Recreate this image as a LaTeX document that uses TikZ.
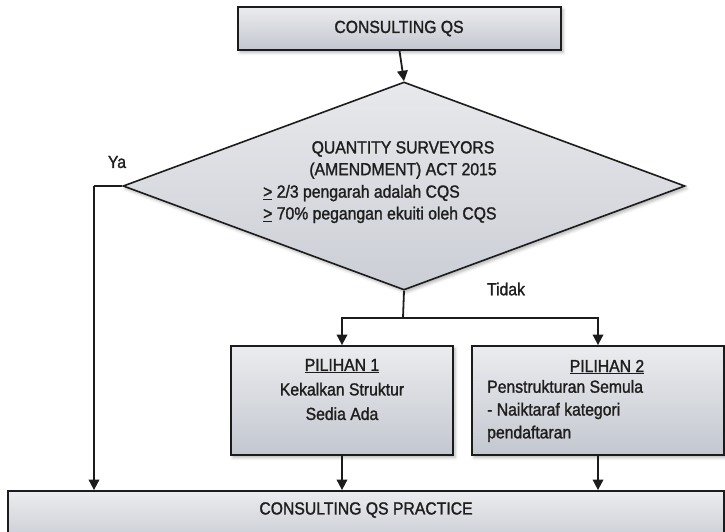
\documentclass[tikz,border=0pt]{standalone}
\usepackage{fontspec}
\setmainfont{Liberation Sans}[FakeStretch=0.9, FakeBold=1.4]
\usetikzlibrary{shapes.geometric,arrows.meta,shadows.blur}
\definecolor{edge}{HTML}{1C1C1C}
\definecolor{textgray}{HTML}{1E1E1E}
\definecolor{boxtop}{HTML}{EBECEF}
\definecolor{boxbot}{HTML}{C3C7CF}
\definecolor{dectop}{HTML}{E8E9EC}
\definecolor{decbot}{HTML}{CBCED5}
\begin{document}
\begin{tikzpicture}[x=1pt,y=-1pt,
  every node/.style={text=textgray, font=\fontsize{17.5}{21.8}\selectfont},
  soft shadow/.style={blur shadow={shadow xshift=2pt, shadow yshift=-2.5pt,
      shadow blur radius=3pt, shadow opacity=30}},
  box/.style={rectangle, draw=edge, line width=1.8pt, inner sep=0pt,
    top color=boxtop, bottom color=boxbot, soft shadow},
  decision/.style={diamond, draw=edge, line width=1.6pt, inner sep=0pt,
    top color=dectop, bottom color=decbot, soft shadow},
  label/.style={inner sep=0pt},
  flow/.style={draw=edge, line width=1.8pt, -{Triangle[width=10.5pt,length=10.5pt]}},
  link/.style={draw=edge, line width=1.8pt}
]
\useasboundingbox (0,0) rectangle (725,531);
\clip (0,0) rectangle (725,531);

% boxes
\node[box, minimum width=323pt, minimum height=43pt] (top) at (399.5,28.5) {};
\node[decision, minimum width=562pt, minimum height=208pt] (dec) at (404,186) {};
\node[box, minimum width=222pt, minimum height=109pt] (opt1) at (342,400.5) {};
\node[box, minimum width=252pt, minimum height=109pt] (opt2) at (598,400.5) {};
\node[box, minimum width=716pt, minimum height=60pt] (practice) at (366,521) {};

% texts
\node[label] (toptext) at (399,28.5) {CONSULTING QS};
\node[label, align=center] (dectitle) at (403,160) {QUANTITY SURVEYORS\\(AMENDMENT) ACT 2015};
\node[label, align=left, anchor=west] (deccrit) at (263,204)
  {\underline{>} 2/3 pengarah adalah CQS\\\underline{>} 70\% pegangan ekuiti oleh CQS};
\node[label, align=center, font=\fontsize{17.5}{24.5}\selectfont] (opt1text) at (342,389.5)
  {\underline{PILIHAN 1}\\Kekalkan Struktur\\Sedia Ada};
\node[label] (opt2title) at (607,367) {\underline{PILIHAN 2}};
\node[label, align=left, anchor=west, font=\fontsize{17.5}{22.8}\selectfont] (opt2text) at (487,411)
  {Penstrukturan Semula\\- Naiktaraf kategori\\pendaftaran};
\node[label] (practicetext) at (366,510) {CONSULTING QS PRACTICE};
\node[label] (ya) at (117,162) {Ya};
\node[label] (tidak) at (506,289) {Tidak};

% connectors
\coordinate (yaturn) at (94,186);
\coordinate (split) at (403,318);
\draw[flow] (top.south) -- (dec.north);
\draw[link] (dec.west) -- (yaturn);
\draw[flow] (yaturn) -- (yaturn |- practice.north);
\draw[link] (dec.south) -- (split);
\draw[flow] (split) -| (opt1.north);
\draw[flow] (split) -| (opt2.north);
\draw[flow] (opt1.south) -- (opt1.south |- practice.north);
\draw[flow] (opt2.south) -- (opt2.south |- practice.north);
\end{tikzpicture}
\end{document}
